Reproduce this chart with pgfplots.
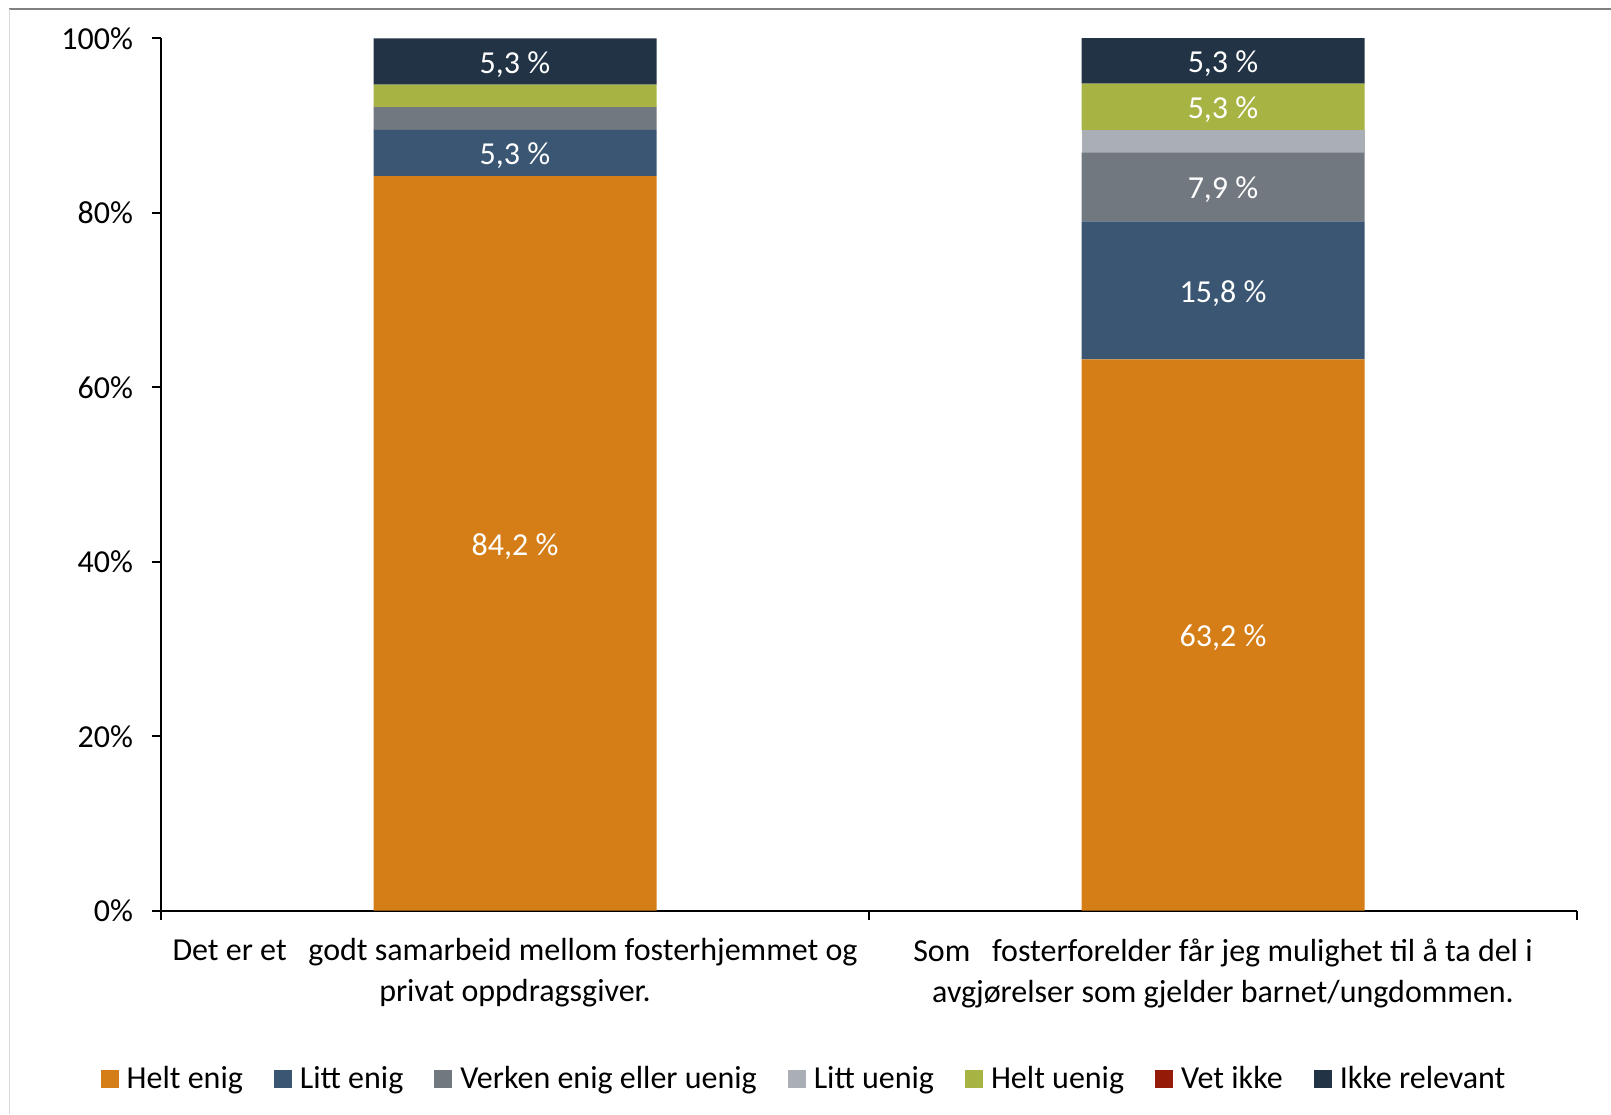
\documentclass[border=0pt]{standalone}
\usepackage{pgfplots}
\usepackage{pgfplotstable}
\pgfplotsset{compat=1.18}
\usepackage{fontspec}
\setmainfont{Carlito}
\definecolor{cHE}{HTML}{D57E17}
\definecolor{cLE}{HTML}{3A5673}
\definecolor{cVE}{HTML}{72787F}
\definecolor{cLU}{HTML}{A9AFB5}
\definecolor{cHU}{HTML}{A7B342}
\definecolor{cVI}{HTML}{951A07}
\definecolor{cIR}{HTML}{213345}
% values per answer, x=0 first statement, x=1 second statement
\pgfplotstableread{
x y
0 84.2
1 63.2
}\tHE
\pgfplotstableread{
x y
0 5.3
1 15.8
}\tLE
\pgfplotstableread{
x y
0 2.6
1 7.9
}\tVE
\pgfplotstableread{
x y
0 0
1 2.6
}\tLU
\pgfplotstableread{
x y
0 2.6
1 5.3
}\tHU
\pgfplotstableread{
x y
0 0
1 0
}\tVI
\pgfplotstableread{
x y
0 5.3
1 5.3
}\tIR
% data labels at segment midpoints
\pgfplotstableread{
x mid label
0 42.1 {84,2 \%}
0 86.85 {5,3 \%}
0 97.35 {5,3 \%}
1 31.6 {63,2 \%}
1 71.1 {15,8 \%}
1 82.95 {7,9 \%}
1 92.15 {5,3 \%}
1 97.45 {5,3 \%}
}\tLab
\newcommand\fs{\fontsize{16}{20.5}\selectfont}
\begin{document}
\begin{tikzpicture}
\begin{axis}[
  at={(0,0)}, anchor=south west,
  scale only axis, width=708pt, height=436.2pt,
  ybar stacked, bar width=141.5pt,
  xmin=-0.5, xmax=1.5, ymin=0, ymax=100,
  axis lines*=left,
  axis line style={black, line width=0.9pt},
  tick align=outside,
  major tick length=4.5pt,
  tick style={black, line width=0.9pt},
  ytick={0,20,40,60,80,100},
  yticklabel={\pgfmathprintnumber{\tick}\%},
  /pgf/number format/assume math mode=true,
  xtick={-0.5,0.5,1.5},
  xticklabels={,,},
  extra x ticks={0,1},
  extra x tick labels={{Det er et\ \ \ godt samarbeid mellom fosterhjemmet og\\privat oppdragsgiver.},{Som\ \ \ fosterforelder får jeg mulighet til å ta del i\\avgjørelser som gjelder barnet/ungdommen.}},
  extra x tick style={tick style={draw=none}},
  xticklabel style={align=center, font=\fs, yshift=-6pt},
  yticklabel style={font=\fs, xshift=-6pt},
  legend style={at={(0.4548,-0.1929)}, anchor=center, draw=none, legend columns=-1, font=\fs,
    /tikz/every even column/.append style={column sep=13.5pt}},
  legend image code/.code={\fill[#1] (0pt,-4.5pt) rectangle (9pt,4.5pt); \path (11pt,0pt);},
]
\addplot[fill=cHE, draw=none] table[x=x, y=y] {\tHE};
\addplot[fill=cLE, draw=none] table[x=x, y=y] {\tLE};
\addplot[fill=cVE, draw=none] table[x=x, y=y] {\tVE};
\addplot[fill=cLU, draw=none] table[x=x, y=y] {\tLU};
\addplot[fill=cHU, draw=none] table[x=x, y=y] {\tHU};
\addplot[fill=cVI, draw=none] table[x=x, y=y] {\tVI};
\addplot[fill=cIR, draw=none] table[x=x, y=y] {\tIR};
\legend{Helt enig, Litt enig, Verken enig eller uenig, Litt uenig, Helt uenig, Vet ikke, Ikke relevant}
\end{axis}
\begin{axis}[
  at={(0,0)}, anchor=south west,
  scale only axis, width=708pt, height=436.2pt,
  xmin=-0.5, xmax=1.5, ymin=0, ymax=100,
  hide axis,
]
\addplot[draw=none, mark=none, point meta=explicit symbolic, nodes near coords,
  every node near coord/.style={anchor=center, text=white, font=\fs, yshift=-1.5pt}]
  table[x=x, y=mid, meta=label] {\tLab};
\end{axis}
\path[use as bounding box] (-80.5pt,-101.65pt) rectangle (725pt,455.35pt);
\draw[color=black!50, line width=1pt] (-75.75pt,450.6pt) -- (725pt,450.6pt);
\draw[color=black!15, line width=0.6pt] (-75.75pt,450.6pt) -- (-75.75pt,-101.65pt);
\end{tikzpicture}
\end{document}
